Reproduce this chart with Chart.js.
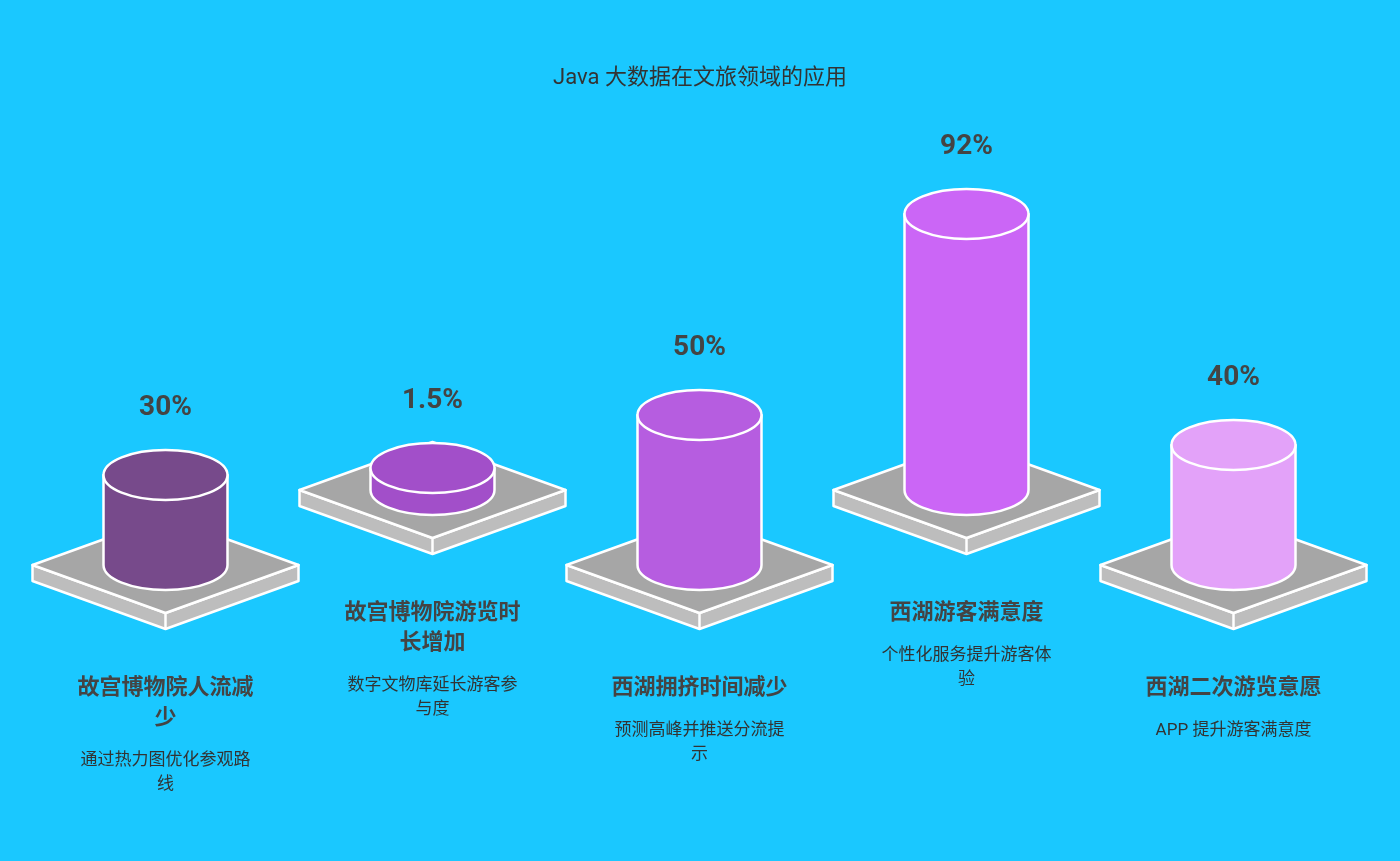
<!DOCTYPE html>
<html>
<head>
<meta charset="utf-8">
<script src="https://cdn.jsdelivr.net/npm/chart.js@4"></script>
<style>
  html, body { margin: 0; padding: 0; background: #1ac8ff; }
  #wrap { width: 1400px; height: 861px; }
</style>
</head>
<body>
<div id="wrap"><canvas id="chart" width="1400" height="861"></canvas></div>
<script>
// chart data
const TITLE = 'Java 大数据在文旅领域的应用';
const labels = ['故宫博物院人流减\n少', '故宫博物院游览时\n长增加', '西湖拥挤时间减少', '西湖游客满意度', '西湖二次游览意愿'];
const descriptions = ['通过热力图优化参观路\n线', '数字文物库延长游客参\n与度', '预测高峰并推送分流提\n示', '个性化服务提升游客体\n验', 'APP 提升游客满意度'];
const values = [30, 1.5, 50, 92, 40];
const valueLabels = ['30%', '1.5%', '50%', '92%', '40%'];
// staggered baselines (odd rows sit lower)
const baselines = [0, 25, 0, 25, 0];

const COLORS = ['#774a8b', '#a24fc9', '#b65de0', '#cb66f6', '#e3a2f9'];
const PLATFORM = '#a6a6a6';
const TEXT = '#444444';
const FONT_STACK = 'Roboto, "Noto Sans CJK SC", sans-serif';

function ellipse(ctx, x, y, rx, ry) {
    ctx.beginPath();
    ctx.ellipse(x, y, rx, ry, 0, 0, Math.PI * 2);
}

// draws the slabs, cylinders and all texts
const cylinderPlugin = {
    id: 'cylinders',
    afterDatasetsDraw(chart) {
        const ctx = chart.ctx;
        const meta = chart.getDatasetMeta(0);
        ctx.save();
        ctx.lineWidth = 2.5;
        ctx.strokeStyle = '#ffffff';
        ctx.lineJoin = 'round';

        // title
        ctx.fillStyle = '#333333';
        ctx.font = '22px ' + FONT_STACK;
        ctx.textAlign = 'center';
        ctx.textBaseline = 'middle';
        ctx.fillText(TITLE, chart.width / 2, 78);

        meta.data.forEach((bar, i) => {
            const x = bar.x;
            const bottom = bar.base;
            let top = bar.y;
            if (bottom - top < 22) top = bottom - 22;
            const hw = 133, hh = 48, th = 16;
            const rx = 62, ry = 25;

            // platform sides
            ctx.fillStyle = '#bdbdbd';
            ctx.beginPath();
            ctx.moveTo(x - hw, bottom);
            ctx.lineTo(x, bottom + hh);
            ctx.lineTo(x + hw, bottom);
            ctx.lineTo(x + hw, bottom + th);
            ctx.lineTo(x, bottom + hh + th);
            ctx.lineTo(x - hw, bottom + th);
            ctx.closePath();
            ctx.fill();
            ctx.stroke();
            ctx.beginPath();
            ctx.moveTo(x, bottom + hh);
            ctx.lineTo(x, bottom + hh + th);
            ctx.stroke();
            // platform top
            ctx.fillStyle = PLATFORM;
            ctx.beginPath();
            ctx.moveTo(x - hw, bottom);
            ctx.lineTo(x, bottom - hh);
            ctx.lineTo(x + hw, bottom);
            ctx.lineTo(x, bottom + hh);
            ctx.closePath();
            ctx.fill();
            ctx.stroke();

            // cylinder body
            ctx.fillStyle = COLORS[i];
            ctx.beginPath();
            ctx.moveTo(x - rx, top);
            ctx.lineTo(x - rx, bottom);
            ctx.ellipse(x, bottom, rx, ry, 0, Math.PI, 0, true);
            ctx.lineTo(x + rx, top);
            ctx.closePath();
            ctx.fill();
            ctx.stroke();
            // cylinder top
            ellipse(ctx, x, top, rx, ry);
            ctx.fill();
            ctx.stroke();

            // value label
            ctx.fillStyle = TEXT;
            ctx.font = 'bold 28px ' + FONT_STACK;
            ctx.fillText(valueLabels[i], x, top - 67);

            // category label
            ctx.font = 'bold 22px ' + FONT_STACK;
            let y = bottom + 123;
            const lines = labels[i].split('\n');
            lines.forEach((l, k) => ctx.fillText(l, x, y + k * 30));
            y += (lines.length - 1) * 30 + 43;
            ctx.fillStyle = '#333333';
            ctx.font = '17px ' + FONT_STACK;
            descriptions[i].split('\n').forEach((l, k) => ctx.fillText(l, x, y + k * 24));
        });
        ctx.restore();
    }
};

const ctx = document.getElementById('chart').getContext('2d');
const myChart = new Chart(ctx, {
    type: 'bar',
    data: {
        labels: labels,
        datasets: [{
            data: values.map((v, i) => [baselines[i], baselines[i] + v]),
            backgroundColor: 'rgba(0,0,0,0)',
            borderWidth: 0
        }]
    },
    options: {
        responsive: false,
        animation: false,
        layout: { padding: { top: 115, bottom: 296, left: 32, right: 33 } },
        scales: {
            x: { display: false },
            y: { display: false, min: 0, max: 150 }
        },
        plugins: {
            legend: { display: false },
            tooltip: { enabled: false },
            title: { display: false }
        }
    },
    plugins: [cylinderPlugin]
});
</script>
</body>
</html>
